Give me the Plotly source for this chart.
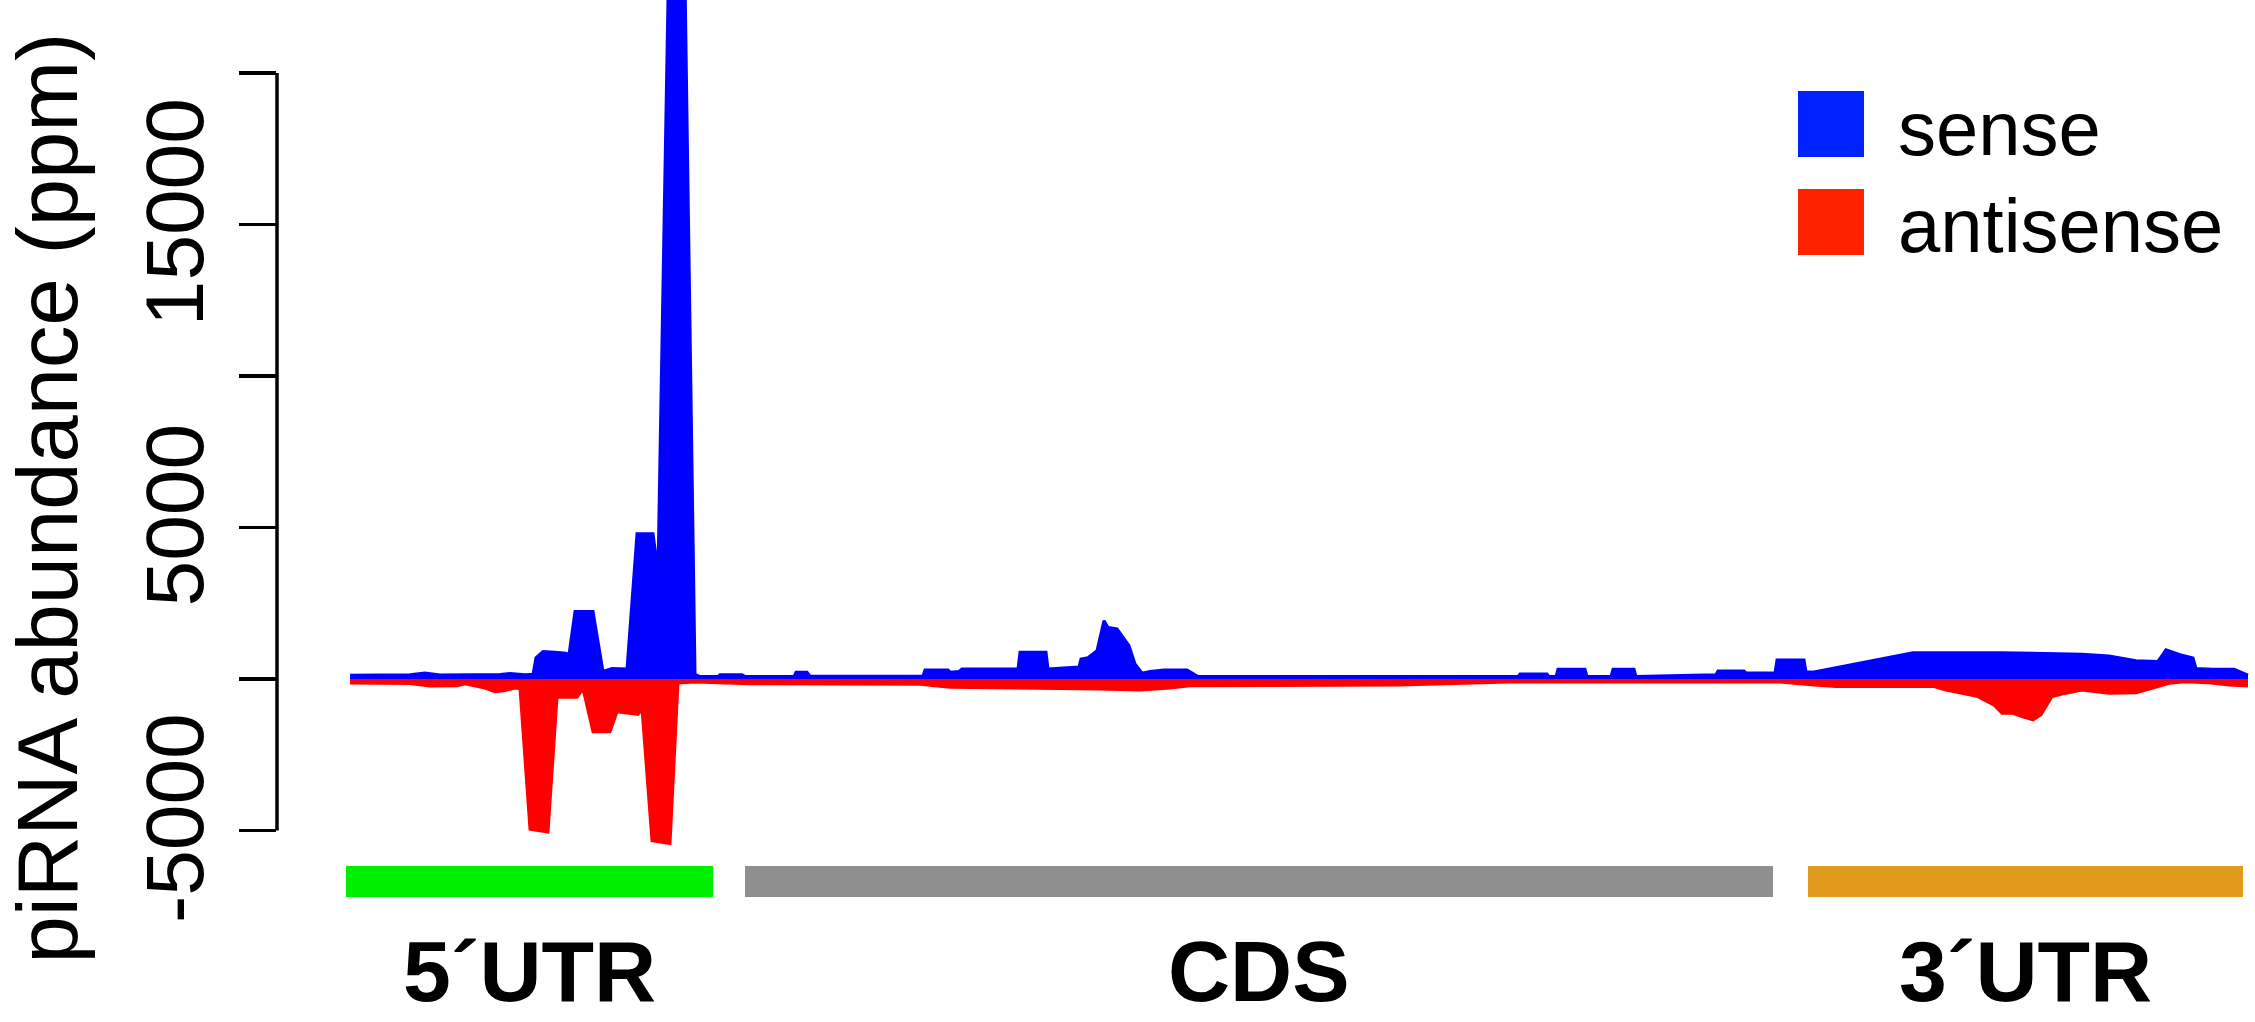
import plotly.graph_objects as go

# ---------------- data (positions along transcript, arbitrary units; values in ppm) ----------------
sense_pos = [0, 60, 75, 90, 150, 160, 175, 183, 186, 193, 205, 216, 219, 225, 243, 253, 262, 277,
             287, 303, 308, 322, 332, 345, 350, 368, 370, 392, 395, 444, 446, 457, 460, 573, 575,
             598, 600, 609, 612, 668, 670, 696, 698, 729, 731, 738, 747, 754, 758, 767, 779, 785,
             792, 800, 814, 837, 848, 1000, 1168, 1170, 1197, 1199, 1206, 1208, 1235, 1237, 1261,
             1263, 1284, 1286, 1366, 1368, 1394, 1396, 1425, 1427, 1454, 1456, 1464, 1563, 1650,
             1732, 1759, 1786, 1808, 1816, 1830, 1843, 1846, 1862, 1884, 1898]
sense_val = [120, 140, 200, 130, 150, 180, 140, 160, 700, 910, 880, 850, 800, 2230, 2230, 250, 350, 330,
             4790, 4790, 3560, 30000, 30000, 150, 80, 80, 140, 140, 80, 80, 220, 220, 90, 100, 300,
             300, 220, 250, 330, 330, 880, 880, 330, 400, 660, 700, 935, 1925, 1700, 1650, 1100, 500,
             190, 250, 300, 300, 80, 80, 80, 165, 165, 80, 80, 320, 320, 80, 80,
             320, 320, 80, 140, 265, 265, 200, 200, 627, 627, 230, 230, 870, 870,
             820, 760, 600, 580, 960, 800, 690, 350, 320, 320, 130]

anti_pos = [0, 60, 80, 107, 115, 135, 145, 155, 165, 170, 180, 198, 207, 227, 233, 243, 260, 267,
            288, 292, 302, 320, 328, 345, 400, 570, 600, 700, 750, 790, 820, 840, 1000, 1050, 1159,
            1430, 1464, 1486, 1584, 1595, 1628, 1644, 1652, 1663, 1672, 1683, 1691, 1702, 1712, 1732,
            1759, 1786, 1802, 1819, 1835, 1857, 1879, 1898]
anti_val = [-130, -150, -230, -220, -160, -300, -420, -380, -300, -320, -4960, -5050, -606, -606, -322,
            -1740, -1740, -1080, -1170, -985, -5340, -5430, -130, -100, -160, -170, -270, -300, -330,
            -360, -300, -220, -220, -200, -100, -100, -200, -250, -250, -360, -580, -860, -1130, -1130,
            -1240, -1350, -1180, -580, -500, -360, -470, -450, -310, -140, -90, -120, -200, -230]

y_tick_vals = [-5000, 0, 5000, 10000, 15000, 20000]
y_tick_text = ["-5000", "", "5000", "", "15000", ""]

region_names = ["5\u00b4UTR", "CDS", "3\u00b4UTR"]
region_start = [-4, 395, 1458]
region_end = [363, 1423, 1893]
region_colors = ["#00EE00", "#8F8F8F", "#E09A1E"]

legend_names = ["sense", "antisense"]
legend_colors = ["#0022FF", "#FF2200"]

# ---------------- layout constants ----------------
W, H = 2255, 1022
ML, MR, MT, MB = 277, 0, 0, 26
PW, PH = W - ML - MR, H - MT - MB
FONT = "Liberation Sans, Arial, Helvetica, sans-serif"

fig = go.Figure()
fig.add_trace(go.Scatter(x=sense_pos, y=sense_val, mode="lines", fill="tozeroy",
                         line=dict(color="#0000FF", width=3), fillcolor="#0000FF",
                         name="sense", showlegend=False, hoverinfo="skip"))
fig.add_trace(go.Scatter(x=anti_pos, y=anti_val, mode="lines", fill="tozeroy",
                         line=dict(color="#FF0000", width=3), fillcolor="#FF0000",
                         name="antisense", showlegend=False, hoverinfo="skip"))

shapes = []
# y axis line only between first and last tick (R style)
shapes.append(dict(type="line", xref="paper", yref="y", x0=0, x1=0,
                   y0=min(y_tick_vals), y1=max(y_tick_vals),
                   line=dict(color="black", width=3.5)))
# region bars
for s, e, c in zip(region_start, region_end, region_colors):
    shapes.append(dict(type="rect", xref="x", yref="y", x0=s, x1=e, y0=-6172, y1=-7195,
                       fillcolor=c, line=dict(width=0), layer="above"))

annotations = []
for n, s, e in zip(region_names, region_start, region_end):
    annotations.append(dict(x=(s + e) / 2, y=-9650, xref="x", yref="y", text="<b>%s</b>" % n,
                            showarrow=False, xanchor="center", yanchor="middle",
                            font=dict(family=FONT, size=86, color="black")))

# manual legend (large swatches like R)
def px_x(px):
    return (px - ML) / PW

def px_y(py):
    return 1 - (py - MT) / PH

sw_left, sw_right, sw_h, row_gap, first_top = 1798, 1864, 66, 98, 91
for i, (n, c) in enumerate(zip(legend_names, legend_colors)):
    top = first_top + i * row_gap
    shapes.append(dict(type="rect", xref="paper", yref="paper",
                       x0=px_x(sw_left), x1=px_x(sw_right), y0=px_y(top), y1=px_y(top + sw_h),
                       fillcolor=c, line=dict(width=0)))
    annotations.append(dict(x=px_x(1896), y=px_y(top + sw_h / 2 + 4), xref="paper", yref="paper",
                            text=n, showarrow=False, xanchor="left", yanchor="middle",
                            font=dict(family=FONT, size=76, color="black")))

fig.update_layout(
    width=W, height=H,
    margin=dict(l=ML, r=MR, t=MT, b=MB, pad=0),
    paper_bgcolor="white", plot_bgcolor="white",
    showlegend=False,
    shapes=shapes, annotations=annotations,
    xaxis=dict(range=[-73, 1905], visible=False, fixedrange=True),
    yaxis=dict(range=[-10462, 22409], tickvals=y_tick_vals, ticktext=y_tick_text,
               tickangle=-90, ticks="outside", ticklen=37, tickwidth=3.5, tickcolor="black",
               ticklabelstandoff=3,
               showgrid=False, zeroline=False, showline=False,
               tickfont=dict(family=FONT, size=82, color="black"),
               title=dict(text="piRNA abundance (ppm)", standoff=36,
                          font=dict(family=FONT, size=85, color="black")),
               fixedrange=True),
)

fig.write_html("out.html", config={"displayModeBar": False, "staticPlot": True},
               post_script="document.body.style.margin='0';document.body.style.overflow='hidden';")
